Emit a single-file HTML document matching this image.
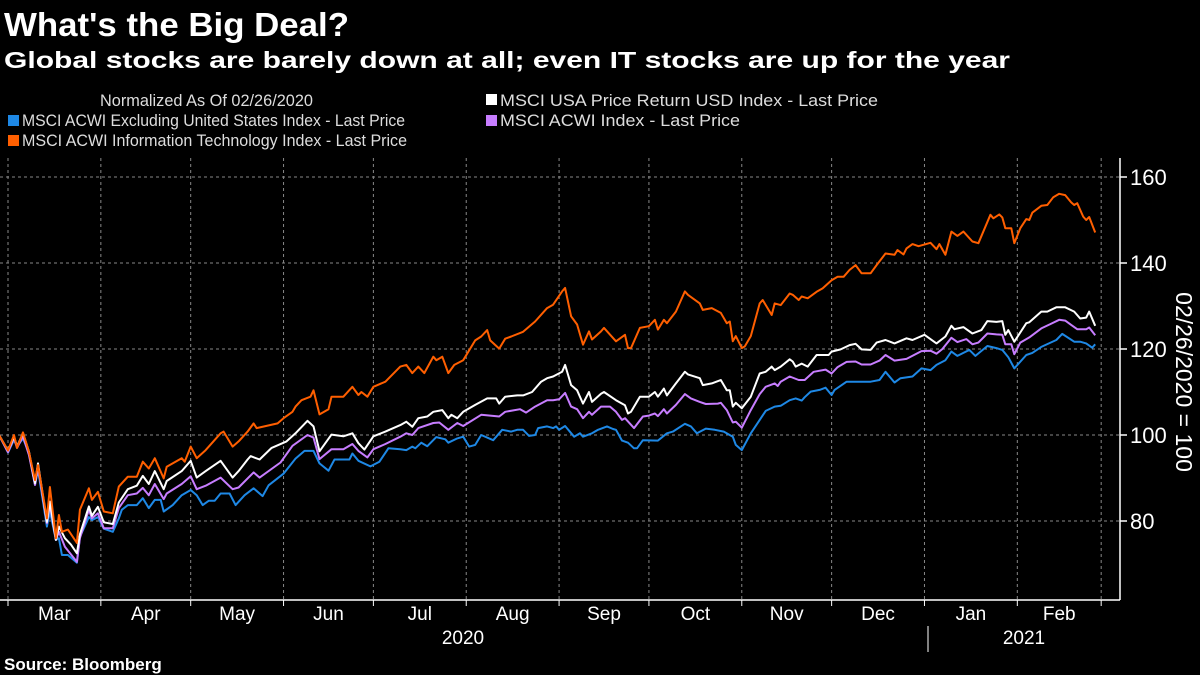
<!DOCTYPE html>
<html><head><meta charset="utf-8"><style>
html,body{margin:0;padding:0;background:#000;}
svg{display:block;font-family:"Liberation Sans",sans-serif;}
</style></head><body>
<svg id="chart" width="1200" height="675" viewBox="0 0 1200 675" xmlns="http://www.w3.org/2000/svg">
<rect x="0" y="0" width="1200" height="675" fill="#000"/>
<text x="4" y="36" fill="#fff" font-size="33" font-weight="bold" textLength="345" lengthAdjust="spacingAndGlyphs">What's the Big Deal?</text>
<text x="4" y="68" fill="#fff" font-size="23" font-weight="bold" textLength="1006" lengthAdjust="spacingAndGlyphs">Global stocks are barely down at all; even IT stocks are up for the year</text>
<g fill="#ddd" font-size="17">
<text x="100" y="106" textLength="213" lengthAdjust="spacingAndGlyphs">Normalized As Of 02/26/2020</text>
<g><rect x="486" y="94" width="11" height="11" fill="#fff"/><text x="500" y="106" textLength="378" lengthAdjust="spacingAndGlyphs">MSCI USA Price Return USD Index - Last Price</text></g>
<g><rect x="8" y="115" width="11" height="11" fill="#1e88e5"/><text x="22" y="126" textLength="383" lengthAdjust="spacingAndGlyphs">MSCI ACWI Excluding United States Index - Last Price</text></g>
<g><rect x="486" y="115" width="11" height="11" fill="#c77dff"/><text x="500" y="126" textLength="240" lengthAdjust="spacingAndGlyphs">MSCI ACWI Index - Last Price</text></g>
<g><rect x="8" y="135" width="11" height="11" fill="#ff5f00"/><text x="22" y="146" textLength="385" lengthAdjust="spacingAndGlyphs">MSCI ACWI Information Technology Index - Last Price</text></g>
</g>
<g id="grid"></g>
<g id="axes"></g>
<g id="series"></g>
<text x="0" y="0" transform="translate(1176,382) rotate(90)" text-anchor="middle" fill="#fff" font-size="23">02/26/2020 = 100</text>
<text x="4" y="670" fill="#fff" font-size="17" font-weight="bold">Source: Bloomberg</text>
</svg>
<script>
// Data: days since 2020-02-26 and normalized index values
const yTicks = [80, 100, 120, 140, 160];
const monthLabels = ["Mar","Apr","May","Jun","Jul","Aug","Sep","Oct","Nov","Dec","Jan","Feb"];
const monthStartDays = [4,35,65,96,126,157,188,218,249,279,310,341,369];
const yearLabels = ["2020","2021"];

const itDays = [1,4,6,7,9,11,13,14,17,18,20,21,22,24,27,28,31,32,34,36,39,41,44,47,49,51,53,56,57,62,63,65,67,70,75,76,79,81,84,86,87,94,96,99,100,102,105,106,108,111,112,116,119,121,122,124,126,130,135,137,139,141,143,146,147,149,151,153,156,160,162,164,165,168,170,172,176,180,184,186,189,190,192,194,196,198,199,202,203,207,210,211,212,215,218,220,221,223,224,227,230,231,235,236,239,242,244,245,246,247,249,250,252,255,256,259,260,262,265,266,268,269,271,274,276,279,281,283,285,287,289,292,294,297,300,301,303,304,306,308,312,314,315,317,319,321,323,326,328,332,333,335,336,337,339,340,342,344,345,346,349,351,353,355,357,359,360,361,363,364,365,367];
const itValues = [100,96.4,100,97,100.6,96,89.5,93,80.6,87.9,76,81.4,77.5,78,74.9,82.6,87.6,84.9,86.8,82.2,81.8,88,90.3,90.3,93.8,92.2,94.6,89.9,92.6,94.6,93.8,97.3,94.6,96.5,100.4,100.8,97.3,98.5,100.8,102.7,101.6,102.7,103.9,105.4,106.6,108.1,108.9,110.4,104.8,106,108.9,108.9,111.2,109.3,110,108.9,111.2,112.4,115.9,116.3,114.4,115.9,114.4,118.2,117.4,118.2,114.4,116.3,117.4,122,122.9,124.4,122,120.1,122.4,122.9,124,126.4,129.5,130.3,133.4,134.2,127.6,125.7,121,124.1,122.2,124.1,124.9,121.8,123.3,120.2,120.2,124.9,125.3,126.8,124.5,126.8,126,128.7,133.4,132.6,130.6,129.1,129.5,128.4,126,126.4,121.8,123,120.2,120.6,123,130.6,131.4,127.9,130.6,130.2,132.9,132.6,131.4,132.2,131.8,133.3,134.1,136,136.8,136.8,138.4,139.5,137.6,137.6,139.5,142.2,141.9,143,142,143.4,144.4,143.9,144.7,143.2,144.4,141.9,147.3,146.3,147.3,145,144.6,151.2,150.4,151.3,150.6,148.1,148.1,144.6,148.1,150.2,150,151.7,153.3,153.5,155.3,156.1,155.8,154.1,153.5,153.9,150.8,150,150.7,147.1];

const usaDays = [1,4,6,7,9,11,13,14,17,18,20,21,23,25,27,28,31,32,34,36,39,41,44,47,49,51,53,56,57,62,65,67,70,75,79,81,84,85,88,92,97,100,104,106,108,112,116,119,121,123,126,130,135,137,139,141,144,146,149,151,152,154,156,160,164,167,168,170,174,176,179,182,184,186,189,190,192,194,196,198,199,202,203,207,210,211,212,215,218,220,221,223,224,227,230,231,235,236,239,242,244,245,246,247,249,252,255,257,259,260,262,265,266,267,269,271,274,278,279,282,285,287,289,292,294,297,300,304,306,310,314,317,319,320,323,326,329,331,334,336,337,338,340,344,345,349,351,354,357,360,362,364,365,367];
const usaValues = [100,96.4,99.6,97.3,100.4,96.1,88.8,93.4,79.8,84.5,75.6,78.7,76,74.5,72.5,76.9,83.4,81.2,83.3,79.7,79.3,84.3,87.4,88.2,90.5,88.6,91.6,87.4,89.3,91.6,94,90.1,91.6,94,90.1,91.6,94.3,95.1,94.3,97,98.5,100.4,103.3,102,96.2,100.1,99.7,100.4,98.1,96.6,99.7,100.8,102.3,103.1,101.9,103.9,104.3,105.4,105.8,103.9,104.7,103.9,105.4,107,108.5,108.5,107.3,108.9,109.2,109.2,110,112.4,113.2,113.6,114.7,116.3,111.6,110.4,107.3,110,107.7,109.6,110,108.1,106.9,105,105.4,108.9,108.9,110,108.9,110.8,109.2,112,114.7,114.1,113.2,111.6,112,112.8,110.4,110.4,106.6,107.5,106.2,108.9,114.3,114.7,115.9,115.1,115.9,117.6,117.1,115.9,116.6,115.9,118.6,118.6,119.4,119.9,120.9,121.2,119.9,119.8,121.5,122.1,121.3,122.5,122.1,123.3,121.3,122.9,125.4,124.6,125.1,123.6,124.4,126.5,126.3,126.5,123.3,124.4,121.7,126,126.2,128.7,128.7,129.7,129.7,128.7,127.1,127.3,128.7,125.4];

const acwiDays = [1,4,6,7,9,11,13,14,17,18,20,21,23,27,28,31,32,34,36,39,41,44,47,49,51,53,56,57,62,65,67,70,75,79,81,86,88,95,99,104,106,108,112,116,119,121,124,126,130,135,137,139,141,146,148,151,154,156,162,168,170,175,177,180,184,186,188,190,192,194,196,198,199,202,205,207,209,210,213,216,218,220,221,223,224,227,230,232,235,237,241,242,244,246,247,249,252,255,257,260,261,262,265,268,270,273,277,279,281,284,287,289,292,295,297,300,304,309,312,314,316,319,321,324,326,328,331,334,336,337,339,340,342,345,349,352,355,357,359,361,364,365,367];
const acwiValues = [100,96,99.3,97,99.7,95.3,88.4,92.6,79.5,83.8,75.6,77.5,74,70.5,76,82.6,80.6,81.8,78.3,78.3,83,86,86.4,87.7,86,88.6,85.1,86.4,88.6,90.4,87.4,88.2,90.1,87.4,87.8,91.3,90.1,93.6,97.5,100,99.4,94.4,96.7,96.7,97.9,96.3,94.8,96.7,97.9,99.6,100.4,100,101.6,102.8,102.9,101.2,102.8,102.1,104.7,104.3,105.4,106,105.2,106.6,108.1,108.1,108.3,109.8,106.6,106,103.9,105.4,104.7,106.6,106.6,105.4,103.5,103.9,101.6,104.3,104.5,105,104.4,106,105,107,109.5,108.5,107.7,107.2,107.3,107.5,105.8,102.9,103.1,101.7,105.8,109.5,111.2,112,111.4,112.4,113.6,112.8,112.8,114.7,115.2,114.3,115.8,117,117.1,116.4,116.4,117.3,118.6,117.3,117.7,119.5,119.6,118.9,120,122.6,121.6,122.3,121.1,121.5,123.6,123.4,123.3,121.1,121.1,118.8,121.5,122.7,124.8,125.8,126.8,126.6,125.6,124.6,124.6,125,123.2];

const exUsDays = [1,4,6,7,9,11,13,14,17,18,20,21,22,24,27,28,31,32,34,36,39,41,42,44,47,49,51,53,55,56,59,62,65,67,69,71,73,75,78,80,83,86,89,91,96,100,103,106,108,111,113,118,119,121,125,128,131,135,137,139,140,142,144,147,150,151,154,156,158,160,162,166,169,172,174,176,178,180,181,184,186,187,188,190,193,195,196,199,201,204,206,207,209,211,213,214,216,221,224,226,230,232,234,237,240,243,246,247,249,252,255,257,260,262,265,267,269,270,272,275,277,279,280,284,288,292,295,297,300,302,306,309,312,314,317,319,321,325,327,331,334,336,338,340,344,346,349,354,356,360,362,364,366,367];
const exUsValues = [100,95.9,98.9,97.3,99.2,95.8,88.4,91.9,78.7,82.2,75.6,76,72.1,72.1,70.3,76.3,80.9,80.2,80.9,78.2,77.5,80.6,82.6,83.7,83.7,85.3,83,84.9,84.9,82.2,83.7,86,87.2,86,83.7,84.7,84.7,86.4,86.4,83.7,86,87.6,85.8,88.3,91,94.5,96.3,96.3,93.4,91.7,94.3,94.3,95.7,94,92.7,93.8,96.9,96.7,96.5,97.3,96.9,98.2,97.4,99.5,99,98.2,99.2,99.6,97.3,97.7,100,98.8,101.2,100.8,101.2,101.2,99.8,100,101.6,102,101.6,102,101.2,102.1,99.6,100.4,99.6,100.4,101.2,102,101.4,101.2,98.7,98.2,96.9,96.9,98.8,98.7,100.4,100.8,102.6,102,100.4,101.5,101.2,100.8,99.6,97.7,96.5,100.4,103.5,105.6,106.6,106.8,108.1,108.5,108,108.8,110.1,110.5,111,109.3,110.5,112.4,112.4,112.4,112.8,114.7,112.2,113.2,113.6,115.5,115.1,116.3,117.4,119.4,118.4,119.8,118.4,120.7,120.2,119.8,118.1,115.5,118.6,119.1,120.5,122.1,123.5,121.7,121.7,121.3,120.3,121.1];

const NS = "http://www.w3.org/2000/svg";
const plotLeft = 0, plotRight = 1120, plotTop = 158, plotBottom = 600;
function xScale(d){ return 8 + (d - 4) * 2.995; }
function yScale(v){ return 435 - (v - 100) * 4.3; }
function mk(tag, attrs, parent){ const e = document.createElementNS(NS, tag); for (const k in attrs) e.setAttribute(k, attrs[k]); parent.appendChild(e); return e; }

const grid = document.getElementById('grid');
const axes = document.getElementById('axes');
yTicks.forEach(t => {
  const y = yScale(t);
  const gl = mk('line', {x1: plotLeft, x2: plotRight, y1: y, y2: y, stroke: '#888', 'stroke-width': 1, 'stroke-dasharray': '3,3'}, grid);
  
  
  const tk = mk('line', {x1: plotRight, x2: plotRight + 7, y1: y, y2: y, stroke: '#fff', 'stroke-width': 1.5}, axes);
  
  
  const lb = mk('text', {x: plotRight + 10, y: y + 8, fill: '#fff', 'font-size': 22}, axes);
  lb.textContent = t;
  
  
});
monthStartDays.forEach(d => {
  const x = xScale(d);
  const gl = mk('line', {x1: x, x2: x, y1: plotTop, y2: plotBottom, stroke: '#888', 'stroke-width': 1, 'stroke-dasharray': '3,3'}, grid);
  
  
  const tk = mk('line', {x1: x, x2: x, y1: plotBottom, y2: plotBottom + 6, stroke: '#fff', 'stroke-width': 1}, axes);
  
  
});
monthLabels.forEach((m, i) => {
  const x = (xScale(monthStartDays[i]) + xScale(monthStartDays[i + 1])) / 2;
  const lb = mk('text', {x: x, y: 620, fill: '#fff', 'font-size': 19, 'text-anchor': 'middle'}, axes);
  lb.textContent = m;
  
  
});
const yl1 = mk('text', {x: 463, y: 644, fill: '#fff', 'font-size': 19, 'text-anchor': 'middle'}, axes);
yl1.textContent = yearLabels[0];


const yl2 = mk('text', {x: 1024, y: 644, fill: '#fff', 'font-size': 19, 'text-anchor': 'middle'}, axes);
yl2.textContent = yearLabels[1];


const sep = mk('line', {x1: 928, x2: 928, y1: 626, y2: 652, stroke: '#fff', 'stroke-width': 1}, axes);


const xa = mk('line', {x1: plotLeft, x2: plotRight, y1: plotBottom, y2: plotBottom, stroke: '#fff', 'stroke-width': 1.5}, axes);


const ya = mk('line', {x1: plotRight, x2: plotRight, y1: plotTop, y2: plotBottom, stroke: '#fff', 'stroke-width': 1.5}, axes);



const series = document.getElementById('series');
function drawLine(days, vals, color, name){
  const n = Math.min(days.length, vals.length);
  let d = '';
  for (let i = 0; i < n; i++) d += (i ? 'L' : 'M') + xScale(days[i]).toFixed(1) + ',' + yScale(vals[i]).toFixed(1);
  const p = mk('path', {d: d, fill: 'none', stroke: color, 'stroke-width': 2, 'stroke-linejoin': 'round'}, series);
  
  
}
drawLine(exUsDays, exUsValues, '#1e88e5', 'line-acwi-ex-us');
drawLine(acwiDays, acwiValues, '#c77dff', 'line-acwi');
drawLine(usaDays, usaValues, '#ffffff', 'line-usa');
drawLine(itDays, itValues, '#ff5f00', 'line-acwi-it');
</script>
</body></html>
